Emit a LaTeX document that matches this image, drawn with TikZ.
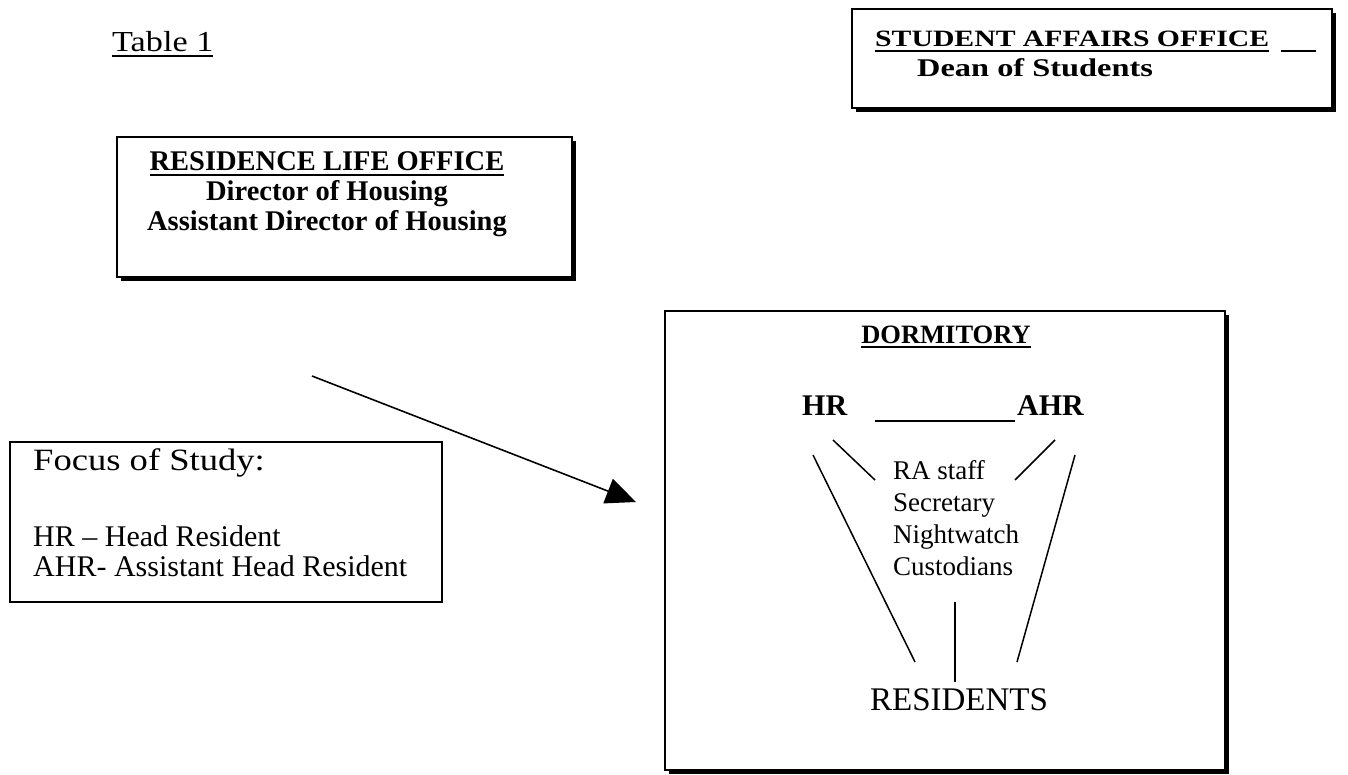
\documentclass[tikz,border=0pt]{standalone}
\usepackage{fontspec}
\setmainfont{Liberation Serif}
\newfontfamily\widefont[FakeStretch=1.27]{Liberation Serif}
\newfontfamily\bookfont[FakeStretch=1.18]{Liberation Serif}
\usetikzlibrary{arrows.meta,shadows,positioning}
\newcommand{\undl}[1]{\setbox0\hbox{#1}\rlap{\rule[-5pt]{\wd0}{1.6pt}}\box0}
\begin{document}
\begin{tikzpicture}[x=1pt,y=-1pt]
\tikzstyle{officebox} = [draw, line width=1.5pt, fill=white, drop shadow={shadow xshift=4pt, shadow yshift=-4pt, opacity=1, fill=black}] % box with shadow
\tikzstyle{plainbox} = [draw, line width=1.5pt, fill=white] % box without shadow
\tikzstyle{link} = [line width=1.5pt] % lines in the dormitory
\useasboundingbox (0,0) rectangle (1348,775);

\node[anchor=base west, inner sep=0pt] (tab) at (112,52) {\bookfont\fontsize{29}{30}\selectfont\undl{Table 1}};
%
\node[officebox, minimum width=480pt, minimum height=99pt] (saobox) at (1092,58.5) {}; % student affairs
\node[anchor=base west, inner sep=0pt, align=left, font=\widefont\fontsize{23.4}{30}\selectfont\bfseries] (sao) at (875,77) {%
	\undl{STUDENT AFFAIRS OFFICE}\hspace{12pt}\rule[-5pt]{35pt}{1.6pt}\\
	\hspace*{42pt}\fontsize{25.5}{30}\selectfont Dean of Students}; % base = last line
%
\node[officebox, minimum width=455pt, minimum height=140pt] (resbox) at (344.5,207) {}; % residence life
\node[anchor=base, inner sep=0pt, align=center, font=\fontsize{28.5}{30}\selectfont\bfseries] (res) at (327,231) {%
	\undl{RESIDENCE LIFE OFFICE}\\ Director of Housing\\ Assistant Director of Housing};
%
\node[plainbox, minimum width=432pt, minimum height=160pt] (focbox) at (226,522) {}; % focus of study
\node[anchor=base west, inner sep=0pt] (foc) at (33,470) {\bookfont\fontsize{31}{30}\selectfont Focus of Study:};
\node[anchor=base west, inner sep=0pt, align=left, font=\fontsize{30}{30}\selectfont] (abbr) at (33,576) {%
	HR -- Head Resident\\ AHR- Assistant Head Resident};
%
\node[officebox, minimum width=560pt, minimum height=459pt] (dormbox) at (945,540.5) {}; % dormitory
\node[anchor=base, inner sep=0pt] (dorm) at (946,343) {\fontsize{26.5}{30}\selectfont\bfseries\undl{DORMITORY}};
\node[anchor=base west, inner sep=0pt] (hr) at (802,415) {\fontsize{30}{30}\selectfont\bfseries HR};
\node[anchor=base west, inner sep=0pt] (ahr) at (1017,415) {\fontsize{30}{30}\selectfont\bfseries AHR};
\node[anchor=base west, inner sep=0pt, align=left, font=\fontsize{27}{32}\selectfont] (staff) at (893,575) {%
	RA staff\\ Secretary\\ Nightwatch\\ Custodians};
\node[anchor=base, inner sep=0pt] (resid) at (959,710) {\fontsize{33}{33}\selectfont RESIDENTS};

\coordinate (hrline) at (875,421);
\coordinate (ahrline) at (1015,421);
\coordinate (hrin) at (833,440);
\coordinate (stl) at (875,480);
\coordinate (ahrin) at (1055,440);
\coordinate (str) at (1015,480);
\coordinate (hrout) at (813,455);
\coordinate (resl) at (915,662);
\coordinate (ahrout) at (1075,455);
\coordinate (resr) at (1017,662);
\coordinate (stb) at (955,602);
\coordinate (rest) at (955,682);
\draw[link] (hrline) -- (ahrline);
\draw[link] (hrin) -- (stl);
\draw[link] (ahrin) -- (str);
\draw[link] (hrout) -- (resl);
\draw[link] (ahrout) -- (resr);
\draw[link] (stb) -- (rest);

\coordinate (arrstart) at (312,376);
\coordinate (arrtip) at (636,502);
\draw[line width=1.6pt, -{Triangle[length=30pt,width=26pt]}] (arrstart) -- (arrtip);
\end{tikzpicture}
\end{document}
